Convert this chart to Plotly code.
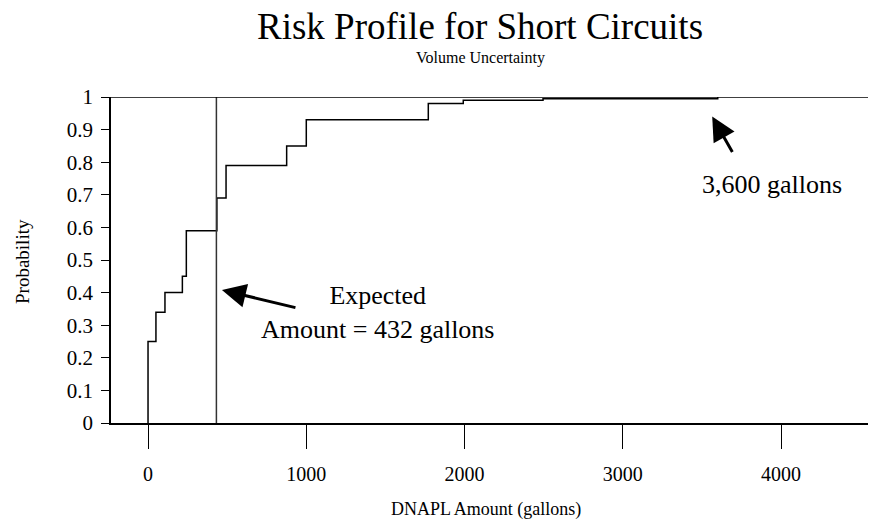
import plotly.graph_objects as go

# Step locations (gallons) and cumulative probability after each step
amounts = [0, 50, 107, 217, 242, 435, 493, 876, 1000, 1771, 1992, 2496, 3600]
cum_prob = [0.25, 0.34, 0.40, 0.45, 0.59, 0.69, 0.79, 0.85, 0.93, 0.98, 0.99, 0.995, 1.0]
expected_amount = 432
max_amount = 3600

x_ticks = [0, 1000, 2000, 3000, 4000]
y_ticks = [0, 0.1, 0.2, 0.3, 0.4, 0.5, 0.6, 0.7, 0.8, 0.9, 1]
y_tick_text = ["0", "0.1", "0.2", "0.3", "0.4", "0.5", "0.6", "0.7", "0.8", "0.9", "1"]

FONT = "Liberation Serif"

# page has an 8px body margin; plot area in page pixels: x 111..876, y 97..423
PL, PR, PT, PB = 111, 876, 97, 423
PW, PH = PR - PL, PB - PT


def px(xp):
    return (xp - PL) / PW


def py(yp):
    return (PB - yp) / PH


fig = go.Figure()

fig.add_trace(go.Scatter(
    x=[amounts[0]] + amounts,
    y=[0] + cum_prob,
    mode="lines",
    line=dict(shape="hv", color="black", width=1.5),
    showlegend=False,
    hoverinfo="skip",
))

fig.add_trace(go.Scatter(
    x=[expected_amount, expected_amount],
    y=[0, 1],
    mode="lines",
    line=dict(color="#333333", width=1.5),
    showlegend=False,
    hoverinfo="skip",
))

# top border
fig.add_shape(type="line", xref="paper", yref="y", x0=0, x1=1, y0=1, y1=1,
              line=dict(color="black", width=1.5))

ann = []
ann.append(dict(text="Risk Profile for Short Circuits", xref="paper", yref="paper",
                x=px(480), y=py(27), xanchor="center", yanchor="middle",
                showarrow=False, font=dict(family=FONT, size=37, color="black")))
ann.append(dict(text="Volume Uncertainty", xref="paper", yref="paper",
                x=px(480), y=py(58), xanchor="center", yanchor="middle",
                showarrow=False, font=dict(family=FONT, size=16, color="black")))
ann.append(dict(text="DNAPL Amount (gallons)", xref="paper", yref="paper",
                x=px(486), y=py(509), xanchor="center", yanchor="middle",
                showarrow=False, font=dict(family=FONT, size=18, color="black")))
ann.append(dict(text="Probability", xref="paper", yref="paper",
                x=px(22), y=py(262), xanchor="center", yanchor="middle", textangle=-90,
                showarrow=False, font=dict(family=FONT, size=19, color="black")))
# Expected arrow
ann.append(dict(x=expected_amount + 35, y=0.408, xref="x", yref="y", text="",
                showarrow=True, ax=75, ay=18, arrowhead=2, arrowsize=1.6, arrowwidth=3,
                arrowcolor="black"))
ann.append(dict(text="Expected<br>Amount = 432 gallons", x=(378 - 148) / 0.1584, y=0.34,
                xref="x", yref="y",
                xanchor="center", yanchor="middle", align="center", showarrow=False,
                font=dict(family=FONT, size=26, color="black")))
# 3600 arrow
ann.append(dict(x=max_amount - 35, y=0.94, xref="x", yref="y", text="",
                showarrow=True, ax=21, ay=37, arrowhead=2, arrowsize=1.6, arrowwidth=3,
                arrowcolor="black"))
ann.append(dict(text="3,600 gallons", x=(773 - 148) / 0.1584, y=0.733, xref="x", yref="y",
                xanchor="center", yanchor="middle", showarrow=False,
                font=dict(family=FONT, size=26, color="black")))

fig.update_layout(
    width=876 - 8, height=525 - 8,
    margin=dict(l=PL - 8, r=0, t=PT - 8, b=525 - PB),
    paper_bgcolor="white", plot_bgcolor="white",
    font=dict(family=FONT, color="black"),
    annotations=ann,
    xaxis=dict(range=[-234, 4600], tickvals=x_ticks, ticks="outside", ticklen=24,
               tickwidth=1, tickcolor="black", showgrid=False, zeroline=False,
               showline=True, linecolor="black", linewidth=1.5,
               tickfont=dict(family=FONT, size=20, color="black"), ticklabelstandoff=8),
    yaxis=dict(range=[0, 1], tickvals=y_ticks, ticktext=y_tick_text, ticks="outside",
               ticklen=8, tickwidth=1, tickcolor="black", showgrid=False, zeroline=False,
               showline=True, linecolor="black", linewidth=1.5,
               tickfont=dict(family=FONT, size=21, color="black"), ticklabelstandoff=4),
)

fig.write_html("out.html")
